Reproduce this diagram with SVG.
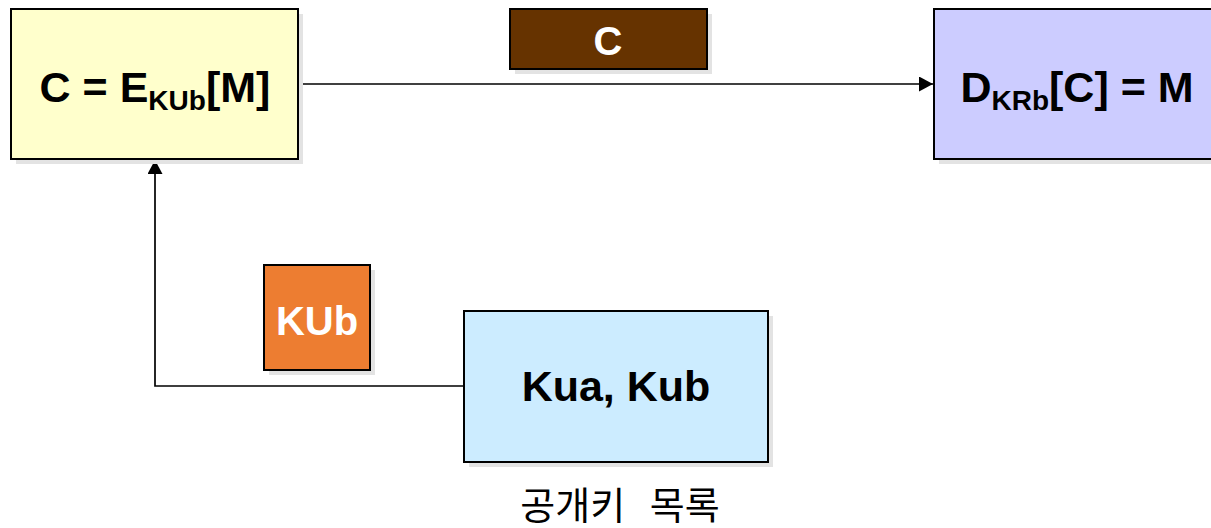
<svg xmlns="http://www.w3.org/2000/svg" width="1211" height="528" viewBox="0 0 1211 528">
<style>
.box{stroke:#000;stroke-width:2}
.sh{fill:#e3e3e3}
.t{font-family:"Liberation Sans",Arial,sans-serif;font-weight:bold;font-size:43px;fill:#000}
.w{fill:#fff;font-size:40px}
.sub{font-size:28px}
.ln{fill:none;stroke:#000;stroke-width:1.7}
</style>
<defs>
<marker id="ah" markerWidth="14" markerHeight="15" refX="14" refY="7.5" orient="auto" markerUnits="userSpaceOnUse" viewBox="0 0 14 15">
<path d="M0,0 L14,7.5 L0,15 Z" fill="#000"/>
</marker>
</defs>
<g id="connectors">
<line class="ln" x1="298" y1="84" x2="933" y2="84" marker-end="url(#ah)"/>
<path class="ln" d="M464,386 H155 V160" marker-end="url(#ah)"/>
</g>
<g id="enc">
<rect class="sh" x="16" y="14" width="287" height="150"/>
<rect class="box" x="11" y="9" width="287" height="150" fill="#FFFFCC"/>
<text class="t" x="155" y="102" text-anchor="middle">C = E<tspan class="sub" dy="8">KUb</tspan><tspan dy="-8">[M]</tspan></text>
</g>
<g id="cmsg">
<rect class="sh" x="515" y="14" width="197" height="60"/>
<rect class="box" x="510" y="9" width="197" height="60" fill="#663300"/>
<text class="t w" x="608" y="55" text-anchor="middle">C</text>
</g>
<g id="dec">
<rect class="sh" x="939" y="14" width="290" height="150"/>
<rect class="box" x="934" y="9" width="290" height="150" fill="#CCCCFF"/>
<text class="t" x="1077" y="102" text-anchor="middle">D<tspan class="sub" dy="8">KRb</tspan><tspan dy="-8">[C] = M</tspan></text>
</g>
<g id="kub">
<rect class="sh" x="269" y="270" width="106" height="105"/>
<rect class="box" x="264" y="265" width="106" height="105" fill="#ED7D31"/>
<text class="t w" x="317" y="335" text-anchor="middle">KUb</text>
</g>
<g id="keys">
<rect class="sh" x="469" y="316" width="304" height="151"/>
<rect class="box" x="464" y="311" width="304" height="151" fill="#CCECFF"/>
<text class="t" x="616" y="401" text-anchor="middle">Kua, Kub</text>
</g>
<text x="620" y="519" text-anchor="middle" font-family="'Noto Sans CJK KR',sans-serif" font-size="38" word-spacing="16" fill="#000">공개키 목록</text>
</svg>
